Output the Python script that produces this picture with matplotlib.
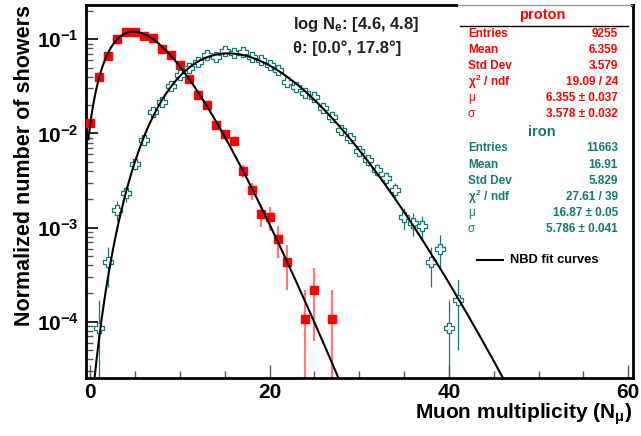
''' Muon multiplicity distributions, proton vs iron, with NBD fit curves '''
import numpy as np
import matplotlib
matplotlib.use('Agg')
import matplotlib.pyplot as plt
from matplotlib.path import Path
from matplotlib.patches import Rectangle
from matplotlib.lines import Line2D
from matplotlib import ticker
from math import lgamma, log, exp

plt.rcParams['font.family'] = ['Liberation Sans', 'DejaVu Sans']
plt.rcParams['font.weight'] = 'bold'
plt.rcParams['mathtext.fontset'] = 'custom'
plt.rcParams['mathtext.rm'] = 'Liberation Sans:bold'
plt.rcParams['mathtext.it'] = 'Liberation Sans:bold'
plt.rcParams['mathtext.bf'] = 'Liberation Sans:bold'

# histogram contents (counts per bin)
proton_n = np.arange(0, 28)
proton_counts = np.array([118, 371, 620, 932, 1115, 1115, 1000, 963, 736, 629,
                          493, 354, 239, 186, 114, 91, 76, 37, 23, 13,
                          12, 7, 4, 0, 1, 2, 0, 1])
proton_entries = 9255

iron_n = np.arange(1, 42)
iron_counts = np.array([1, 5, 18, 27, 55, 100, 196, 254, 376, 488,
                        574, 674, 794, 762, 883, 828, 849, 762, 703, 622,
                        550, 414, 360, 316, 287, 219, 173, 127, 104, 75,
                        61, 48, 39, 29, 15, 13, 12, 5, 7, 1, 2])
iron_entries = 11663

# NBD fit parameters (mu, sigma) from the stat boxes
proton_fit = (6.355, 3.578)
iron_fit = (16.87, 5.786)

proton_stats = [('Entries', '9255'), ('Mean', '6.359'), ('Std Dev', '3.579'),
                ('$\\chi^{2}$ / ndf', '19.09 / 24'), ('\u03bc', '6.355 \u00b1 0.037'),
                ('\u03c3', '3.578 \u00b1 0.032')]
iron_stats = [('Entries', '11663'), ('Mean', '16.91'), ('Std Dev', '5.829'),
              ('$\\chi^{2}$ / ndf', '27.61 / 39'), ('\u03bc', '16.87 \u00b1 0.05'),
              ('\u03c3', '5.786 \u00b1 0.041')]

red = '#ff0000'
red_err = '#ff7b7b'
teal = '#147a78'

W, H = 641, 436
def fx(px):
    return px / W
def fy(py):
    return 1 - py / H


def nbd(x, mu, sigma):
    ''' continuous negative binomial with mean mu and std sigma '''
    p = mu / sigma**2
    r = mu * p / (1 - p)
    return np.array([exp(lgamma(v + r) - lgamma(v + 1) - lgamma(r) + r * log(p) + v * log(1 - p)) for v in x])


# open cross marker like ROOT style 28
a = 0.33
cross = Path([(-a, 1), (a, 1), (a, a), (1, a), (1, -a), (a, -a), (a, -1), (-a, -1),
              (-a, -a), (-1, -a), (-1, a), (-a, a), (-a, 1)], closed=True)

fig = plt.figure(figsize=(6.41, 4.36), dpi=100)
ax = fig.add_axes([fx(85.7), fy(377.7), fx(632.7) - fx(85.7), fy(5) - fy(377.7)])

ymin, ymax = 2.55e-5, 0.231

def draw_hist(n, counts, entries, ecolor, elw, **mk):
    keep = counts > 0
    n, c = n[keep], counts[keep]
    v = c / entries
    e = np.sqrt(c) / entries
    lo = np.maximum(v - e, ymin * 0.5)
    ax.vlines(n, lo, v + e, color=ecolor, lw=elw, zorder=2)
    ax.plot(n, v, ls='none', zorder=3, **mk)

draw_hist(proton_n, proton_counts, proton_entries, red_err, 1.6,
          marker='s', ms=6.2, mfc=red, mec=red)
draw_hist(iron_n, iron_counts, iron_entries, teal, 0.9,
          marker=cross, ms=7.5, mfc='white', mec=teal, mew=0.9)

xp = np.linspace(-0.2, 60.5, 800)
xi = np.linspace(0.0, 60.5, 800)
ax.plot(xp, nbd(xp, *proton_fit), color='black', lw=1.5, zorder=4)
ax.plot(xi, nbd(xi, *iron_fit), color='black', lw=1.5, zorder=4)

ax.set_yscale('log')
ax.set_xlim(-0.5, 60.5)
ax.set_ylim(ymin, ymax)

ax.xaxis.set_major_locator(ticker.MultipleLocator(20))
ax.xaxis.set_minor_locator(ticker.MultipleLocator(5))
ax.yaxis.set_major_locator(ticker.FixedLocator([1e-4, 1e-3, 1e-2, 1e-1]))
ax.yaxis.set_minor_locator(ticker.LogLocator(base=10, subs=np.arange(2, 10)))
ax.yaxis.set_major_formatter(ticker.FuncFormatter(lambda v, pos: '$\\mathrm{10^{%d}}$' % round(np.log10(v))))
ax.yaxis.set_minor_formatter(ticker.NullFormatter())

ax.tick_params(axis='x', which='major', direction='in', length=9.5, width=1, color='#555555',
               labelsize=15, pad=3.5)
ax.tick_params(axis='x', which='minor', direction='in', length=5, width=1, color='#555555')
ax.tick_params(axis='y', which='major', direction='in', length=8.5, width=1.2, color='black',
               labelsize=15, pad=5)
ax.tick_params(axis='y', which='minor', direction='in', length=5, width=1, color='#555555')
for s in ax.spines.values():
    s.set_linewidth(2)

fig.text(fx(632), fy(414), 'Muon multiplicity (N$_{\\mu}$)', ha='right', va='center', fontsize=15)
fig.text(fx(25), fy(5), 'Normalized number of showers', rotation=90, ha='center', va='top', fontsize=15.5)

fig.text(fx(293), fy(25), 'log N$_{e}$: [4.6, 4.8]', ha='left', va='center', fontsize=12, color='#222222')
fig.text(fx(293), fy(48), '\u03b8: [0.0\u00b0, 17.8\u00b0]', ha='left', va='center', fontsize=12, color='#222222')

# stat box (white panel over the frame, only a thin top edge)
fig.add_artist(Rectangle((fx(458), fy(280)), fx(630.5) - fx(458), fy(4) - fy(280),
                         transform=fig.transFigure, facecolor='white', edgecolor='none', zorder=5))
fig.add_artist(Line2D([fx(458), fx(632)], [fy(5), fy(5)], transform=fig.transFigure,
                      color='#999999', lw=1, zorder=6))
fig.add_artist(Line2D([fx(460), fx(628)], [fy(25.7), fy(25.7)], transform=fig.transFigure,
                      color='black', lw=1, zorder=6))

fig.text(fx(542), fy(15), 'proton', ha='center', va='center', fontsize=10.5, color=red, zorder=6)
for i, (k, v) in enumerate(proton_stats):
    y = 34.3 + 16 * i
    w = 'normal' if i >= 4 else 'bold'
    fig.text(fx(468), fy(y), k, ha='left', va='center', fontsize=8.5, color=red, weight=w, zorder=6)
    fig.text(fx(618), fy(y), v, ha='right', va='center', fontsize=8.5, color=red, zorder=6)

fig.text(fx(542), fy(131.5), 'iron', ha='center', va='center', fontsize=10.5, color=teal, zorder=6)
for i, (k, v) in enumerate(iron_stats):
    y = 148.3 + 16.2 * i
    w = 'normal' if i >= 4 else 'bold'
    fig.text(fx(468), fy(y), k, ha='left', va='center', fontsize=8.5, color=teal, weight=w, zorder=6)
    fig.text(fx(618), fy(y), v, ha='right', va='center', fontsize=8.5, color=teal, zorder=6)

fig.add_artist(Line2D([fx(476.7), fx(503.3)], [fy(260), fy(260)], transform=fig.transFigure,
                      color='black', lw=1.5, zorder=6))
fig.text(fx(510), fy(260), 'NBD fit curves', ha='left', va='center', fontsize=9.3, color='black', zorder=6)

fig.savefig('out.png', dpi=100)
